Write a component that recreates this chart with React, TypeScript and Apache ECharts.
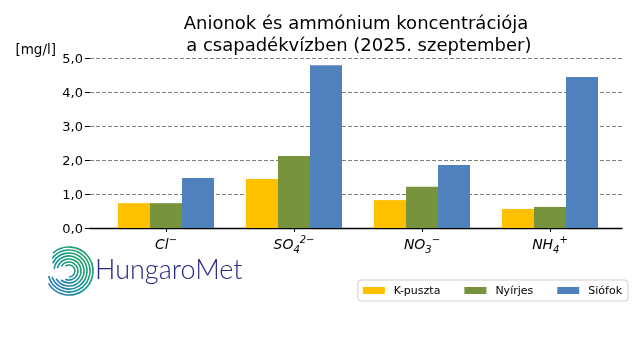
import React, { useEffect, useRef } from "react";
import * as echarts from "echarts";

const categories = ["Cl", "SO", "NO", "NH"];
const subscripts = ["", "4", "3", "4"];
const superscripts = ["−", "2−", "−", "+"];
const seriesNames = ["K-puszta", "Nyírjes", "Siófok"];
const kpuszta = [0.73, 1.44, 0.82, 0.56];
const nyirjes = [0.73, 2.12, 1.21, 0.62];
const siofok = [1.47, 4.79, 1.85, 4.44];
const colors = ["#FFC000", "#77933C", "#4F81BD"];
const yTicks = [0, 1, 2, 3, 4, 5];

const FONT = "DejaVu Sans";

export default function App() {
  const ref = useRef<HTMLDivElement>(null);
  useEffect(() => {
    if (!ref.current) return;
    const chart = echarts.init(ref.current, undefined, { renderer: "svg" });

    // logo rings
    const cx = 69, cy = 271;
    const rings = [
      { r: 6, s: -2.2, e: 1.6 },
      { r: 9, s: -2.6, e: 2.0 },
      { r: 12, s: -2.9, e: 2.3 },
      { r: 15, s: -3.0, e: 2.6 },
      { r: 18, s: -2.7, e: 2.8 },
      { r: 21, s: -2.5, e: 2.9 },
      { r: 24, s: -2.3, e: 2.6 },
    ];
    const grad = new echarts.graphic.LinearGradient(1, 0, 0, 1, [
      { offset: 0, color: "#21a35a" },
      { offset: 0.5, color: "#17968f" },
      { offset: 1, color: "#2a78c0" },
    ]);
    const logoArcs = rings.map((g) => ({
      type: "arc",
      shape: { cx, cy, r: g.r, startAngle: g.s, endAngle: g.e, clockwise: true },
      style: { stroke: grad, lineWidth: 1.6, fill: null },
    }));

    chart.setOption({
      animation: false,
      title: {
        text: "Anionok és ammónium koncentrációja\n a csapadékvízben (2025. szeptember)",
        left: 351,
        top: 6,
        textAlign: "center",
        textStyle: { fontFamily: FONT, fontSize: 18, fontWeight: "normal", color: "#000", lineHeight: 22 },
      },
      legend: {
        data: seriesNames,
        right: 12,
        top: 280,
        padding: [5, 6, 5, 5],
        itemWidth: 22,
        itemHeight: 7,
        itemGap: 24,
        borderColor: "#cfcfcf",
        borderWidth: 1,
        borderRadius: 3,
        icon: "rect",
        textStyle: { fontFamily: FONT, fontSize: 11, color: "#000", padding: [0, 0, 0, 4] },
      },
      grid: [
        { left: 102, width: 512, top: 58, bottom: 132 },
        { left: 90, right: 18, top: 58, bottom: 132 },
      ],
      xAxis: [
        {
          type: "category",
          gridIndex: 0,
          data: categories,
          axisLine: { show: false },
          axisTick: { show: true, alignWithLabel: true, length: 4, lineStyle: { color: "#000" } },
          axisLabel: {
            interval: 0,
            margin: 6,
            formatter: (v: string, i: number) => {
              const sub = subscripts[i] ? `{sub|${subscripts[i]}}` : "";
              return `{b|${v}}${sub}{sup|${superscripts[i]}}`;
            },
            rich: {
              b: { fontFamily: FONT, fontStyle: "italic", fontSize: 14, color: "#000", lineHeight: 20, verticalAlign: "middle" },
              sub: { fontFamily: FONT, fontStyle: "italic", fontSize: 10, color: "#000", verticalAlign: "bottom", lineHeight: 20 },
              sup: { fontFamily: FONT, fontStyle: "italic", fontSize: 10, color: "#000", verticalAlign: "top", lineHeight: 20 },
            },
          },
          splitLine: { show: false },
        },
        {
          type: "value",
          gridIndex: 1,
          min: 0,
          max: 1,
          axisLine: { show: true, lineStyle: { color: "#000", width: 1.3 } },
          axisTick: { show: false },
          axisLabel: { show: false },
          splitLine: { show: false },
        },
      ],
      yAxis: [
        { type: "value", gridIndex: 0, min: 0, max: 5, show: false },
        {
          type: "value",
          gridIndex: 1,
          min: yTicks[0],
          max: yTicks[yTicks.length - 1],
          interval: 1,
          name: "[mg/l]",
          nameLocation: "end",
          nameGap: 2,
          nameTextStyle: { fontFamily: FONT, fontSize: 13.5, color: "#000", align: "right", padding: [0, 34, 0, 0] },
          axisLine: { show: false },
          axisTick: { show: true, length: 5, lineStyle: { color: "#000" } },
          axisLabel: {
            margin: 7,
            fontFamily: FONT,
            fontSize: 13,
            color: "#000",
            formatter: (v: number) => v.toFixed(1).replace(".", ","),
          },
          splitLine: { show: true, lineStyle: { color: "#808080", type: [4, 2], width: 1 } },
        },
      ],
      series: [kpuszta, nyirjes, siofok].map((d, i) => ({
        name: seriesNames[i],
        type: "bar",
        xAxisIndex: 0,
        yAxisIndex: 0,
        data: d,
        barWidth: 32,
        barGap: "0%",
        itemStyle: { color: colors[i] },
      })),
      graphic: [
        ...logoArcs,
        {
          type: "text",
          left: 95,
          top: 255,
          style: {
            text: "HungaroMet",
            fontFamily: "Lato",
            fontWeight: 300,
            fontSize: 27,
            fill: "#232880",
          },
        },
      ],
    });
    return () => chart.dispose();
  }, []);
  return <div ref={ref} style={{ position: "fixed", left: 0, top: 0, width: 640, height: 360 }} />;
}
